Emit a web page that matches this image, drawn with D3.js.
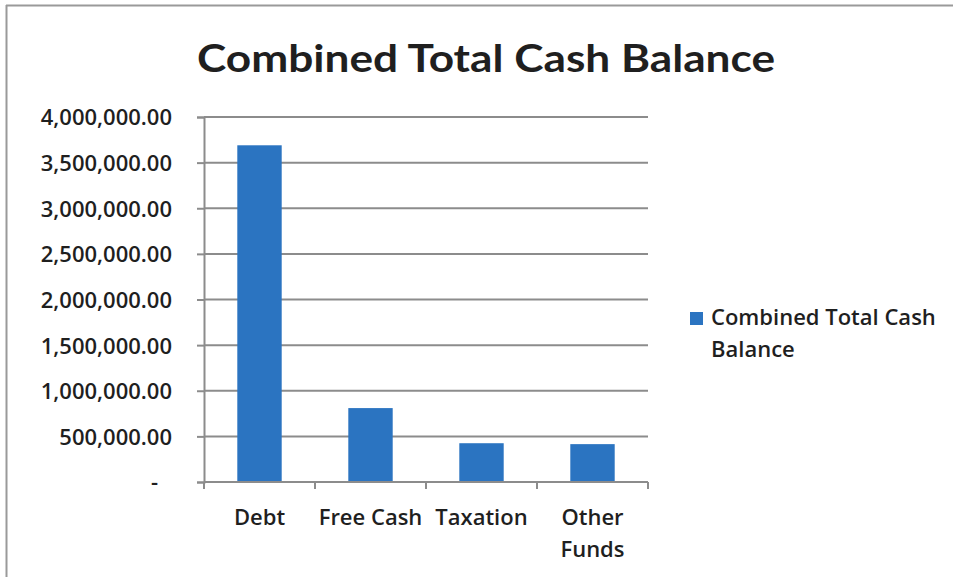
<!DOCTYPE html>
<html>
<head>
<meta charset="utf-8">
<script src="https://cdn.jsdelivr.net/npm/d3@7"></script>
<style>
  html, body { margin: 0; padding: 0; background: #fff; }
  svg { display: block; }
  text { font-family: "Open Sans", Lato, sans-serif; fill: #1f1f1f; }
</style>
</head>
<body>
<svg id="chart" width="953" height="577"></svg>
<script>
// Cash balance by source
const categories = ["Debt", "Free Cash", "Taxation", "Other Funds"];
const balances = [3690000, 810000, 425000, 415000];
const yTicks = [0, 500000, 1000000, 1500000, 2000000, 2500000, 3000000, 3500000, 4000000];
const seriesName = "Combined Total Cash Balance";

const svg = d3.select("#chart");
const W = 953, H = 577;
const plot = { left: 204, right: 648, top: 117, bottom: 482 };
const barColor = "#2b74c1";
const gridColor = "#8c8c8c";
const labelFont = "\"Open Sans\", Lato, sans-serif";
const labelSize = "22px";

// Frame of the chart area (only top and left edges are visible)
svg.append("line").attr("x1", 6).attr("x2", W).attr("y1", 5.5).attr("y2", 5.5)
  .attr("stroke", "#9a9a9a").attr("stroke-width", 2);
svg.append("line").attr("x1", 6.5).attr("x2", 6.5).attr("y1", 5).attr("y2", H)
  .attr("stroke", "#9a9a9a").attr("stroke-width", 2);

const x = d3.scaleBand()
  .domain(categories)
  .range([plot.left, plot.right])
  .paddingInner(0.6)
  .paddingOuter(0.3);

const y = d3.scaleLinear()
  .domain([0, 4000000])
  .range([plot.bottom, plot.top]);

// Title
svg.append("text")
  .attr("x", 486).attr("y", 72)
  .attr("text-anchor", "middle")
  .style("font-family", "Lato, 'Open Sans', sans-serif")
  .style("font-size", "38px")
  .style("font-weight", "700")
  .attr("textLength", 578)
  .attr("lengthAdjust", "spacingAndGlyphs")
  .text(seriesName);

// Horizontal gridlines
svg.append("g").selectAll("line")
  .data(yTicks.filter(d => d > 0))
  .join("line")
  .attr("x1", plot.left).attr("x2", plot.right)
  .attr("y1", d => y(d)).attr("y2", d => y(d))
  .attr("stroke", gridColor).attr("stroke-width", 2);

// Y axis
const fmt = d => d === 0 ? "-" : d3.format(",.2f")(d);
const yAxis = svg.append("g")
  .attr("transform", `translate(${plot.left},0)`)
  .call(d3.axisLeft(y).tickValues(yTicks).tickFormat(fmt).tickSize(7).tickPadding(25));
yAxis.select(".domain").attr("stroke", gridColor).attr("stroke-width", 2);
yAxis.selectAll(".tick line").attr("stroke", gridColor).attr("stroke-width", 2);
yAxis.selectAll(".tick text")
  .style("font-size", labelSize)
  .style("font-weight", "600")
  .style("font-family", labelFont)
  .attr("fill", "#1f1f1f")
  .attr("dy", "0.36em");
yAxis.selectAll(".tick text").filter(d => d === 0).attr("dx", -14);

// Bars
svg.append("g").selectAll("rect")
  .data(categories.map((c, i) => ({ c, v: balances[i] })))
  .join("rect")
  .attr("x", d => x(d.c))
  .attr("y", d => y(d.v))
  .attr("width", x.bandwidth())
  .attr("height", d => y(0) - y(d.v))
  .attr("fill", barColor);

// X axis: baseline with tick marks at category boundaries
const xAxisG = svg.append("g");
xAxisG.append("line")
  .attr("x1", plot.left).attr("x2", plot.right)
  .attr("y1", plot.bottom).attr("y2", plot.bottom)
  .attr("stroke", gridColor).attr("stroke-width", 2);
const bounds = d3.range(categories.length + 1).map(i => plot.left + i * x.step());
xAxisG.selectAll("line.tk").data(bounds).join("line").attr("class", "tk")
  .attr("x1", d => d).attr("x2", d => d)
  .attr("y1", plot.bottom).attr("y2", plot.bottom + 7)
  .attr("stroke", gridColor).attr("stroke-width", 2);

// Category labels (wrapped where Excel wraps them)
const labelLines = { "Debt": ["Debt"], "Free Cash": ["Free Cash"], "Taxation": ["Taxation"], "Other Funds": ["Other", "Funds"] };
categories.forEach(c => {
  const t = svg.append("text")
    .attr("text-anchor", "middle")
    .attr("x", x(c) + x.bandwidth() / 2)
    .attr("y", 525)
    .style("font-size", labelSize)
    .style("font-weight", "600");
  labelLines[c].forEach((ln, i) => {
    t.append("tspan").attr("x", x(c) + x.bandwidth() / 2).attr("dy", i === 0 ? 0 : 32).text(ln);
  });
});

// Legend
svg.append("rect").attr("x", 690).attr("y", 312).attr("width", 13).attr("height", 13).attr("fill", barColor);
const lg = svg.append("text").attr("x", 711).attr("y", 325)
  .style("font-size", labelSize).style("font-weight", "600");
lg.append("tspan").attr("x", 711).text("Combined Total Cash");
lg.append("tspan").attr("x", 711).attr("dy", 32).text("Balance");
</script>
</body>
</html>
